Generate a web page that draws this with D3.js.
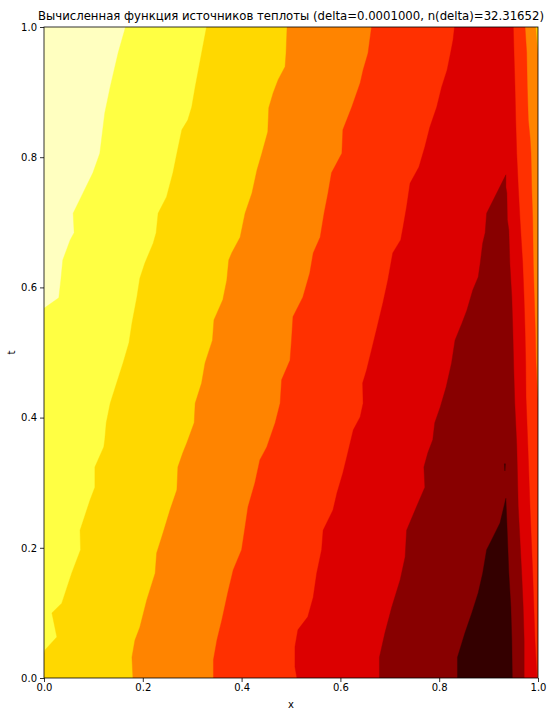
<!DOCTYPE html>
<html><head><meta charset="utf-8">
<script src="https://cdn.jsdelivr.net/npm/d3@7"></script>
<style>body{margin:0;background:#fff}svg{display:block}text{font-family:"DejaVu Sans",sans-serif;fill:#000}</style>
</head><body><svg id="c" width="548" height="713"></svg>
<script>
const titleText = "Вычисленная функция источников теплоты (delta=0.0001000, n(delta)=32.31652)";
const xTicks = [0, 0.2, 0.4, 0.6, 0.8, 1.0];
const tTicks = [0, 0.2, 0.4, 0.6, 0.8, 1.0];
// hot_r colours of the 8 contour bands (low -> high)
const levelColors = ["#ffffc0","#ffff43","#ffd800","#ff8400","#ff3000","#dc0000","#880000","#340000"];

// contour boundaries, as [x, t] pairs (top -> bottom)
const b1 = [[0.165,1.0],[0.150,0.960],[0.134,0.908],[0.123,0.868],[0.113,0.806],[0.099,0.776],[0.079,0.745],[0.059,0.714],[0.061,0.684],[0.053,0.673],[0.038,0.642],[0.034,0.611],[0.030,0.584],[0.0,0.568]];
const b2 = [[0.329,1.0],[0.319,0.960],[0.306,0.908],[0.299,0.877],[0.291,0.857],[0.279,0.842],[0.269,0.806],[0.261,0.776],[0.248,0.739],[0.231,0.714],[0.227,0.684],[0.221,0.668],[0.204,0.637],[0.194,0.614],[0.188,0.585],[0.178,0.545],[0.172,0.515],[0.160,0.484],[0.147,0.453],[0.134,0.422],[0.126,0.392],[0.123,0.366],[0.121,0.355],[0.103,0.324],[0.103,0.293],[0.093,0.273],[0.073,0.227],[0.074,0.197],[0.056,0.161],[0.036,0.115],[0.016,0.100],[0.026,0.063],[0.002,0.043],[0.0,0.038]];
const b3 = [[0.492,1.0],[0.490,0.960],[0.488,0.939],[0.474,0.919],[0.464,0.899],[0.455,0.876],[0.453,0.839],[0.441,0.806],[0.431,0.780],[0.421,0.745],[0.407,0.714],[0.397,0.677],[0.380,0.653],[0.374,0.642],[0.370,0.611],[0.362,0.581],[0.344,0.550],[0.341,0.519],[0.326,0.484],[0.319,0.453],[0.306,0.422],[0.304,0.392],[0.289,0.361],[0.281,0.346],[0.271,0.324],[0.269,0.289],[0.255,0.258],[0.241,0.223],[0.228,0.192],[0.225,0.161],[0.208,0.120],[0.194,0.078],[0.184,0.058],[0.178,0.032],[0.180,0.0]];
const r4 = [[0.9953,1.0],[0.9974,0.980],[1.0,0.957]];
const b4 = [[0.663,1.0],[0.656,0.960],[0.646,0.934],[0.640,0.914],[0.623,0.877],[0.605,0.842],[0.603,0.806],[0.582,0.776],[0.575,0.745],[0.567,0.714],[0.559,0.677],[0.545,0.653],[0.538,0.622],[0.524,0.585],[0.504,0.555],[0.501,0.519],[0.498,0.488],[0.481,0.458],[0.478,0.422],[0.468,0.392],[0.451,0.355],[0.437,0.335],[0.427,0.300],[0.413,0.263],[0.407,0.232],[0.400,0.197],[0.383,0.166],[0.372,0.131],[0.360,0.089],[0.350,0.058],[0.343,0.028],[0.343,0.0]];
const r5 = [[0.9737,1.0],[0.9771,0.960],[0.9783,0.908],[0.9804,0.857],[0.9838,0.831],[0.9858,0.806],[0.9872,0.754],[0.9893,0.704],[0.9905,0.637],[0.9925,0.585],[0.9945,0.535],[0.9960,0.484],[0.9986,0.442],[1.0,0.427]];
const b5 = [[0.831,1.0],[0.828,0.980],[0.823,0.960],[0.816,0.934],[0.805,0.908],[0.795,0.877],[0.781,0.846],[0.771,0.816],[0.759,0.785],[0.741,0.760],[0.734,0.724],[0.727,0.693],[0.722,0.673],[0.706,0.653],[0.696,0.611],[0.686,0.576],[0.673,0.535],[0.663,0.504],[0.653,0.473],[0.645,0.453],[0.646,0.422],[0.640,0.401],[0.626,0.381],[0.615,0.346],[0.605,0.315],[0.593,0.284],[0.585,0.258],[0.565,0.227],[0.562,0.197],[0.552,0.161],[0.545,0.124],[0.534,0.094],[0.514,0.074],[0.508,0.048],[0.508,0.017],[0.512,0.0]];
const r6 = [[0.950,1.0],[0.9514,0.960],[0.9534,0.908],[0.9549,0.857],[0.9569,0.806],[0.9601,0.754],[0.9636,0.704],[0.9690,0.637],[0.9717,0.585],[0.9737,0.535],[0.9751,0.484],[0.9757,0.432],[0.9798,0.350],[0.9838,0.263],[0.9893,0.161],[0.9939,0.058],[0.9974,0.008],[0.998,0.0]];
const darkRed = [[0.679,0.0],[0.679,0.032],[0.690,0.069],[0.704,0.109],[0.721,0.151],[0.731,0.186],[0.734,0.227],[0.754,0.263],[0.771,0.293],[0.769,0.324],[0.777,0.346],[0.787,0.366],[0.791,0.392],[0.802,0.416],[0.814,0.447],[0.825,0.484],[0.832,0.519],[0.846,0.545],[0.856,0.565],[0.868,0.596],[0.879,0.616],[0.883,0.637],[0.888,0.668],[0.893,0.684],[0.896,0.714],[0.935,0.773],[0.935,0.754],[0.937,0.745],[0.938,0.704],[0.941,0.688],[0.943,0.637],[0.947,0.585],[0.949,0.535],[0.951,0.473],[0.953,0.422],[0.957,0.358],[0.960,0.263],[0.967,0.161],[0.970,0.109],[0.972,0.058],[0.972,0.0]];
const darkest = [[0.837,0.0],[0.837,0.032],[0.852,0.069],[0.866,0.100],[0.879,0.131],[0.888,0.161],[0.896,0.197],[0.906,0.212],[0.923,0.238],[0.935,0.276],[0.937,0.238],[0.941,0.161],[0.945,0.109],[0.947,0.058],[0.948,0.0]];
const darkestSpeck = [[0.9320,0.329],[0.9340,0.329],[0.9330,0.318]];

const W = 548, H = 713;
const m = {left:44, right:538, top:27, bottom:678};
const x = d3.scaleLinear().domain([0,1]).range([m.left, m.right]);
const y = d3.scaleLinear().domain([0,1]).range([m.bottom, m.top]);
const svg = d3.select("#c");

svg.append("clipPath").attr("id","clip").append("rect")
  .attr("x", m.left).attr("y", m.top).attr("width", m.right-m.left).attr("height", m.bottom-m.top);

const line = d3.line().x(d => x(d[0])).y(d => y(d[1]));
const rev = a => a.slice().reverse();
const corners = {bl:[0,0], br:[1,0], tr:[1,1], tl:[0,1]};

const bands = [
  {c:0, pts:[corners.tl, corners.tr, corners.br, corners.bl]},
  {c:1, pts:[...b1, corners.bl, corners.br, corners.tr]},
  {c:2, pts:[...b2, corners.bl, corners.br, corners.tr]},
  {c:3, pts:[...b3, corners.br, ...rev(r4)]},
  {c:4, pts:[...b4, corners.br, ...rev(r5)]},
  {c:5, pts:[...b5, ...rev(r6)]},
  {c:6, pts:darkRed},
  {c:7, pts:darkest},
  {c:7, pts:darkestSpeck}
];

const g = svg.append("g").attr("clip-path","url(#clip)");
g.selectAll("path").data(bands).join("path")
  .attr("d", d => line(d.pts) + "Z")
  .attr("fill", d => levelColors[d.c])
  .attr("stroke", d => levelColors[d.c])
  .attr("stroke-width", 0.4);

// axes
const xa = svg.append("g").attr("transform", `translate(0,${m.bottom})`)
  .call(d3.axisBottom(x).tickValues(xTicks).tickFormat(d3.format(".1f")).tickSize(4).tickSizeOuter(0));
const ya = svg.append("g").attr("transform", `translate(${m.left},0)`)
  .call(d3.axisLeft(y).tickValues(tTicks).tickFormat(d3.format(".1f")).tickSize(4).tickSizeOuter(0));
[xa, ya].forEach(a => {
  a.select(".domain").remove();
  a.selectAll("line").attr("stroke","#000").attr("stroke-width",0.8);
  a.selectAll("text").attr("font-family","DejaVu Sans").attr("font-size",10).attr("fill","#000");
});
xa.selectAll("text").attr("dy","0.71em").attr("y",6);
ya.selectAll("text").attr("x",-7);

svg.append("rect").attr("x", m.left).attr("y", m.top)
  .attr("width", m.right-m.left).attr("height", m.bottom-m.top)
  .attr("fill","none").attr("stroke","#000").attr("stroke-width",0.8);

svg.append("text").attr("x", (m.left+m.right)/2).attr("y", 20)
  .attr("text-anchor","middle").attr("font-size",11.6)
  .attr("textLength", 506).attr("lengthAdjust","spacingAndGlyphs").text(titleText);
svg.append("text").attr("x", (m.left+m.right)/2).attr("y", 708)
  .attr("text-anchor","middle").attr("font-size",10).text("x");
svg.append("text").attr("transform", `translate(15,${(m.top+m.bottom)/2}) rotate(-90)`)
  .attr("text-anchor","middle").attr("font-size",10).text("t");
</script></body></html>
